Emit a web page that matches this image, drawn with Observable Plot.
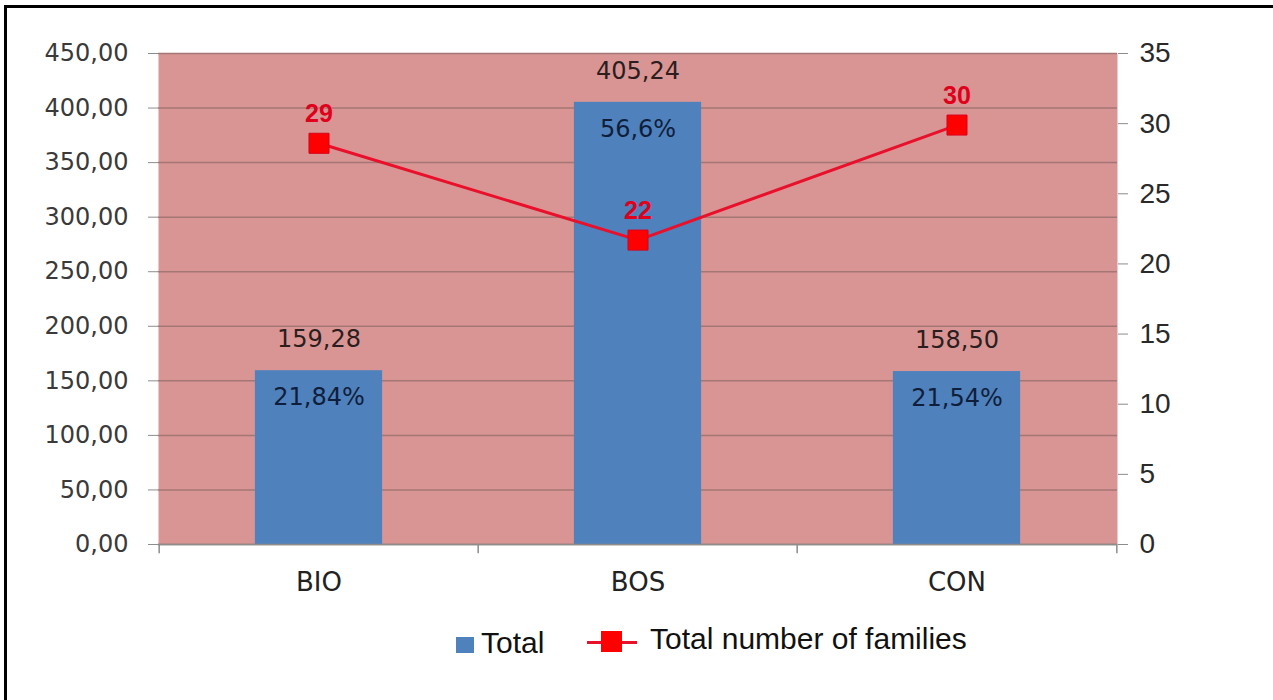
<!DOCTYPE html>
<html>
<head>
<meta charset="utf-8">
<script src="https://cdn.jsdelivr.net/npm/d3@7"></script>
<script src="https://cdn.jsdelivr.net/npm/@observablehq/plot@0.6"></script>
<style>
  html, body { margin: 0; padding: 0; background: #fff; }
  #page { position: relative; width: 1273px; height: 700px; overflow: hidden; }
  #chart { position: absolute; left: 0; top: 0; }
  .bl { position: absolute; background: #000; }
  .lg { position: absolute; font-family: "Liberation Sans", Arial, sans-serif; font-size: 30px; line-height: 1; color: #111; white-space: nowrap; }
</style>
</head>
<body>
<div id="page">
  <div id="chart"></div>
  <div class="bl" style="left:4px;top:5px;width:3px;height:695px;"></div>
  <div class="bl" style="left:4px;top:5px;width:1269px;height:3px;"></div>
  <div style="position:absolute;left:456px;top:637px;width:18px;height:16px;background:#4F81BD;"></div>
  <div class="lg" style="left:481px;top:628px;">Total</div>
  <div style="position:absolute;left:587px;top:641px;width:50px;height:3px;background:#E8102A;"></div>
  <div style="position:absolute;left:601px;top:631px;width:21px;height:21px;background:#FF0000;"></div>
  <div class="lg" style="left:650px;top:624px;">Total number of families</div>
</div>
<script>
const categories = ["BIO", "BOS", "CON"];
const totals = [159.28, 405.24, 158.50];
const totalLabels = ["159,28", "405,24", "158,50"];
const shareLabels = ["21,84%", "56,6%", "21,54%"];
const families = [28.6, 21.7, 29.9];
const familyLabels = ["29", "22", "30"];
const leftTicks = [0, 50, 100, 150, 200, 250, 300, 350, 400, 450];
const rightTicks = [0, 5, 10, 15, 20, 25, 30, 35];

const leftMax = 450, rightMax = 35;
const k = leftMax / rightMax;

const data = categories.map((c, i) => ({
  cat: c, total: totals[i], totalLabel: totalLabels[i], share: shareLabels[i],
  fam: families[i], famLabel: familyLabels[i]
}));

const W = 1273, H = 610, mL = 158, mR = 156;
const bw = (W - mL - mR) / categories.length;

const fmtLeft = v => d3.format(".2f")(v).replace(".", ",");

const chart = Plot.plot({
  width: W, height: H,
  marginLeft: mL, marginRight: mR, marginTop: 53, marginBottom: 66,
  x: {type: "band", domain: categories, padding: 0, axis: null},
  y: {domain: [0, leftMax], axis: null},
  style: {background: "transparent", fontFamily: "DejaVu Sans, sans-serif", overflow: "visible"},
  marks: [
    Plot.frame({fill: "#D99594", stroke: null}),
    Plot.gridY(leftTicks, {stroke: "#A47775", strokeOpacity: 1, strokeWidth: 1.5}),
    Plot.barY(data, {x: "cat", y: "total", fill: "#4F81BD", insetLeft: bw * 0.3, insetRight: bw * 0.3}),
    Plot.ruleY([0], {stroke: "#8c8c8c", strokeWidth: 1.5}),
    Plot.ruleX(categories, {x: d => d, y1: 0, y2: -8.5, dx: -bw / 2, stroke: "#8c8c8c", strokeWidth: 1.5}),
    Plot.ruleX([categories[categories.length - 1]], {x: d => d, y1: 0, y2: -8.5, dx: bw / 2, stroke: "#8c8c8c", strokeWidth: 1.5}),
    Plot.axisY(leftTicks, {anchor: "left", tickSize: 10, tickPadding: 20, tickFormat: fmtLeft,
      fontSize: 24, fontFamily: "DejaVu Sans, sans-serif", stroke: "#8c8c8c", fill: "#3a3a3a", label: null}),
    Plot.axisY(rightTicks.map(v => v * k), {anchor: "right", tickSize: 10, tickPadding: 12,
      tickFormat: v => String(Math.round(v / k)),
      fontSize: 28, fontFamily: "Liberation Sans, Arial, sans-serif", stroke: "#8c8c8c", fill: "#2a2a2a", label: null}),
    Plot.axisX({tickSize: 0, tickPadding: 28, fontSize: 26, fontFamily: "DejaVu Sans, sans-serif", fill: "#222", label: null}),
    Plot.text(data, {x: "cat", y: "total", text: "totalLabel", dy: -31, fontSize: 24, fill: "#2b1e1e"}),
    Plot.text(data, {x: "cat", y: "total", text: "share", dy: 27, fontSize: 24, fill: "#0f1e3a"}),
    Plot.line(data, {x: "cat", y: d => d.fam * k, stroke: "#E8102A", strokeWidth: 3}),
    Plot.dot(data, {x: "cat", y: d => d.fam * k, symbol: "square", r: 11.3, fill: "#FF0000", stroke: "#D8001A", strokeWidth: 1}),
    Plot.text(data, {x: "cat", y: d => d.fam * k, text: "famLabel", dy: -29, fontSize: 25, fontWeight: "bold",
      fontFamily: "Liberation Sans, Arial, sans-serif", fill: "#E0001B"})
  ]
});
document.getElementById("chart").appendChild(chart);
</script>
</body>
</html>
